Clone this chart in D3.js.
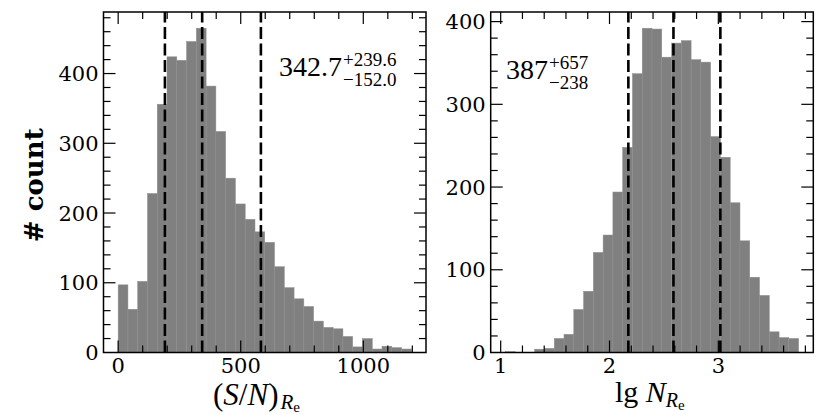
<!DOCTYPE html>
<html>
<head>
<meta charset="utf-8">
<script src="https://cdn.jsdelivr.net/npm/d3@7"></script>
<style>
  body { margin: 0; background: #fff; }
  svg { display: block; }
</style>
</head>
<body>
<div id="chart"></div>
<script>
// histogram of S/N inside Re : 30 bins from 0 to 1196
const snBinStart = 0;
const snBinEnd = 1196;
const snCounts = [97, 62, 102, 228, 356, 424, 419, 446, 465, 382,
                  317, 250, 213, 191, 173, 158, 123, 93, 77, 66,
                  45, 36, 34, 23, 8, 20, 5, 9, 7, 5];
const snLines = [190.7, 342.7, 582.3];
const snTicks = [0, 500, 1000];
const snMinor = [100, 200, 300, 400, 600, 700, 800, 900, 1100, 1200];

// histogram of lg N inside Re : 30 bins from 1.043 to 3.738
const lgBinStart = 1.043;
const lgBinEnd = 3.738;
const lgCounts = [1, 0, 0, 4, 5, 17, 22, 52, 74, 121,
                  142, 194, 248, 337, 392, 391, 357, 374, 377, 354,
                  351, 261, 236, 181, 135, 91, 69, 25, 18, 17];
const lgLines = [Math.log10(149), Math.log10(387), Math.log10(1044)];
const lgTicks = [1, 2, 3];
const lgMinor = [1.2, 1.4, 1.6, 1.8, 2.2, 2.4, 2.6, 2.8, 3.2, 3.4, 3.6, 3.8];

const countTicks = [0, 100, 200, 300, 400];

const width = 830, height = 415;
const svg = d3.select("#chart").append("svg")
  .attr("width", width)
  .attr("height", height);

const yTop = 12, yBottom = 352.5;
const tickFont = "'DejaVu Serif', serif";
const mathFont = "'Liberation Serif', 'DejaVu Serif', serif";

function drawPanel(opt) {
  const { left, right, binStart, binEnd, counts, lines, ticks, minor } = opt;
  const nb = counts.length;
  const bw = (binEnd - binStart) / nb;
  const pad = 0.05 * (binEnd - binStart);
  const x = d3.scaleLinear().domain([binStart - pad, binEnd + pad]).range([left, right]);
  const y = d3.scaleLinear().domain([0, d3.max(counts) * 1.05]).range([yBottom, yTop]);

  const g = svg.append("g");

  const bins = counts.map((c, i) => ({ x0: binStart + i * bw, x1: binStart + (i + 1) * bw, c }));
  g.selectAll(".bar")
    .data(bins.filter(d => d.c > 0))
    .enter().append("rect")
    .attr("class", "bar")
    .attr("x", d => x(d.x0))
    .attr("width", d => x(d.x1) - x(d.x0))
    .attr("y", d => y(d.c))
    .attr("height", d => y(0) - y(d.c))
    .attr("fill", "#808080")
    .attr("stroke", "#8e8e8e")
    .attr("stroke-width", 0.5);

  // dashed percentile lines, drawn bottom to top like axvline
  g.selectAll(".pline")
    .data(lines)
    .enter().append("line")
    .attr("x1", d => x(d)).attr("x2", d => x(d))
    .attr("y1", yBottom).attr("y2", yTop)
    .attr("stroke", "#000")
    .attr("stroke-width", 2.6)
    .attr("stroke-dasharray", "12,4.5");

  // ticks on all four sides, pointing in
  const tk = g.append("g").attr("stroke", "#000").attr("stroke-width", 1.2);
  const xt = ticks.map(v => ({ v, len: 12 })).concat(minor.map(v => ({ v, len: 7 })))
    .filter(d => x(d.v) > left + 0.5 && x(d.v) < right - 0.5);
  tk.selectAll(".xb").data(xt).enter().append("line")
    .attr("x1", d => x(d.v)).attr("x2", d => x(d.v))
    .attr("y1", yBottom).attr("y2", d => yBottom - d.len);
  tk.selectAll(".xt").data(xt).enter().append("line")
    .attr("x1", d => x(d.v)).attr("x2", d => x(d.v))
    .attr("y1", yTop).attr("y2", d => yTop + d.len);

  const ymax = y.domain()[1];
  const yt = d3.range(0, ymax, 20).map(v => ({ v, len: v % 100 === 0 ? 12 : 7 }))
    .filter(d => d.v > 0);
  tk.selectAll(".yl").data(yt).enter().append("line")
    .attr("x1", left).attr("x2", d => left + d.len)
    .attr("y1", d => y(d.v)).attr("y2", d => y(d.v));
  tk.selectAll(".yr").data(yt).enter().append("line")
    .attr("x1", right).attr("x2", d => right - d.len)
    .attr("y1", d => y(d.v)).attr("y2", d => y(d.v));

  // frame
  g.append("rect")
    .attr("x", left).attr("y", yTop)
    .attr("width", right - left).attr("height", yBottom - yTop)
    .attr("fill", "none").attr("stroke", "#000").attr("stroke-width", 1.5);

  // tick labels
  g.selectAll(".xlab").data(ticks).enter().append("text")
    .attr("x", d => x(d)).attr("y", 373)
    .attr("text-anchor", "middle")
    .style("font-family", tickFont).style("font-size", "21px")
    .text(d => d);
  g.selectAll(".ylab").data(countTicks).enter().append("text")
    .attr("x", left - 5).attr("y", d => y(d))
    .attr("dy", "0.36em")
    .attr("text-anchor", "end")
    .style("font-family", tickFont).style("font-size", "21px")
    .text(d => d);

  return { g, x, y };
}

const p1 = drawPanel({ left: 103.5, right: 426, binStart: snBinStart, binEnd: snBinEnd,
  counts: snCounts, lines: snLines, ticks: snTicks, minor: snMinor });
const p2 = drawPanel({ left: 490.7, right: 813.3, binStart: lgBinStart, binEnd: lgBinEnd,
  counts: lgCounts, lines: lgLines, ticks: lgTicks, minor: lgMinor });

// value with +/- errors, mathtext style
function errText(g, x0, base, main, up, down) {
  const t = g.append("text")
    .attr("x", x0).attr("y", base)
    .style("font-family", mathFont).style("font-size", "28px")
    .text(main);
  const w = t.node().getComputedTextLength();
  g.append("text")
    .attr("x", x0 + w + 1).attr("y", base - 10)
    .style("font-family", mathFont).style("font-size", "19px")
    .text(up);
  g.append("text")
    .attr("x", x0 + w + 1).attr("y", base + 10)
    .style("font-family", mathFont).style("font-size", "19px")
    .text(down);
}
errText(p1.g, 279, 76, "342.7", "+239.6", "\u2212152.0");
errText(p2.g, 506, 79, "387", "+657", "\u2212238");

// y axis title
svg.append("text")
  .attr("transform", `translate(43,${(yTop + yBottom) / 2 + 3}) rotate(-90)`)
  .attr("text-anchor", "middle")
  .style("font-family", tickFont).style("font-size", "26px")
  .style("font-weight", "bold")
  .text("# count");

// x axis titles
const xl1 = svg.append("text")
  .attr("x", 213).attr("y", 405)
  .style("font-family", mathFont).style("font-size", "31px");
xl1.append("tspan").text("(");
xl1.append("tspan").style("font-style", "italic").text("S");
xl1.append("tspan").text("/");
xl1.append("tspan").style("font-style", "italic").text("N");
xl1.append("tspan").text(")");
xl1.append("tspan").attr("dy", 4).attr("dx", 2).style("font-style", "italic").style("font-size", "21px").text("R");
xl1.append("tspan").attr("dy", 3).style("font-size", "15px").text("e");

const xl2 = svg.append("text")
  .attr("x", 615).attr("y", 402)
  .style("font-family", mathFont).style("font-size", "30px");
xl2.append("tspan").text("lg ");
xl2.append("tspan").style("font-style", "italic").text("N");
xl2.append("tspan").attr("dy", 5).style("font-style", "italic").style("font-size", "20px").text("R");
xl2.append("tspan").attr("dy", 3).style("font-size", "15px").text("e");
</script>
</body>
</html>
